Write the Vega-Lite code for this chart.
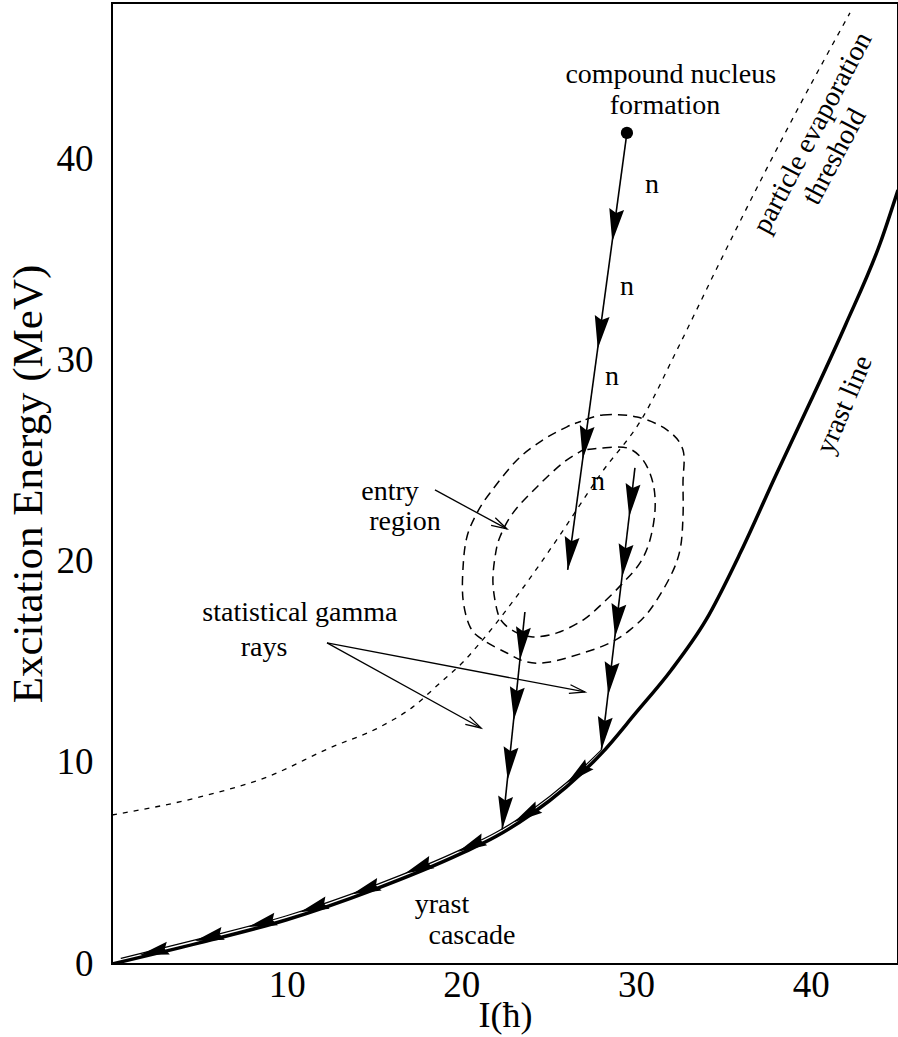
{
  "$schema": "https://vega.github.io/schema/vega-lite/v6.json",
  "width": 786,
  "height": 961,
  "autosize": {"type": "none"},
  "padding": {"left": 112, "top": 3, "right": 0, "bottom": 73},
  "background": "white",
  "config": {
    "view": {"stroke": "black", "strokeWidth": 2},
    "font": "Liberation Serif",
    "text": {"font": "Liberation Serif", "fontSize": 28, "color": "black"}
  },
  "datasets": {
    "yrast": [
      {"x": 0, "y": 0}, {"x": 5, "y": 1.05}, {"x": 10, "y": 2.2}, {"x": 15, "y": 3.7},
      {"x": 20, "y": 5.5}, {"x": 22, "y": 6.35}, {"x": 24, "y": 7.45}, {"x": 26, "y": 8.8},
      {"x": 28, "y": 10.45}, {"x": 30, "y": 12.5}, {"x": 32, "y": 14.6}, {"x": 34, "y": 17.1},
      {"x": 36, "y": 20.5}, {"x": 38, "y": 24.3}, {"x": 40, "y": 28.0}, {"x": 42, "y": 31.8},
      {"x": 44, "y": 35.9}, {"x": 45, "y": 38.5}
    ],
    "cascade": [
      {"x": 0.5, "y": 0.28}, {"x": 5, "y": 1.25}, {"x": 10, "y": 2.4}, {"x": 15, "y": 3.9},
      {"x": 20, "y": 5.7}, {"x": 22, "y": 6.55}, {"x": 24, "y": 7.65}, {"x": 26, "y": 9.0},
      {"x": 28.02, "y": 10.65}
    ],
    "threshold": [
      {"x": 0, "y": 7.41}, {"x": 5.04, "y": 8.31}, {"x": 8.87, "y": 9.3}, {"x": 12.48, "y": 10.75},
      {"x": 15.34, "y": 11.79}, {"x": 17.23, "y": 12.79}, {"x": 18.78, "y": 13.98}, {"x": 20.1, "y": 15.02},
      {"x": 21.07, "y": 15.97}, {"x": 23.36, "y": 18.51}, {"x": 25.65, "y": 21.34}, {"x": 27.94, "y": 24.33},
      {"x": 30.4, "y": 27.21}, {"x": 32.35, "y": 30.55}, {"x": 34.81, "y": 34.93}, {"x": 37.1, "y": 38.91},
      {"x": 39.39, "y": 42.74}, {"x": 42.25, "y": 47.31}
    ],
    "transitions": [
      {"id": "neutron", "x": 29.48, "y": 41.34}, {"id": "neutron", "x": 26.09, "y": 19.6},
      {"id": "gammaLeft", "x": 23.64, "y": 17.51}, {"id": "gammaLeft", "x": 22.34, "y": 6.7},
      {"id": "gammaRight", "x": 29.94, "y": 24.68}, {"id": "gammaRight", "x": 28.02, "y": 10.65}
    ],
    "pointers": [
      {"id": "entry", "x": 18.49, "y": 23.58}, {"id": "entry", "x": 22.61, "y": 21.64},
      {"id": "g1", "x": 12.31, "y": 15.97}, {"id": "g1", "x": 21.13, "y": 11.74},
      {"id": "g2", "x": 12.31, "y": 15.97}, {"id": "g2", "x": 27.08, "y": 13.53}
    ],
    "contours": [
      {"c": "outer", "i": 0, "x": 26.79, "y": 26.97}, {"c": "outer", "i": 1, "x": 28.11, "y": 27.31},
      {"c": "outer", "i": 2, "x": 30.06, "y": 27.21}, {"c": "outer", "i": 3, "x": 31.77, "y": 26.57},
      {"c": "outer", "i": 4, "x": 32.69, "y": 25.57}, {"c": "outer", "i": 5, "x": 32.69, "y": 23.93},
      {"c": "outer", "i": 6, "x": 32.69, "y": 22.24}, {"c": "outer", "i": 7, "x": 32.52, "y": 20.6},
      {"c": "outer", "i": 8, "x": 31.95, "y": 19.25}, {"c": "outer", "i": 9, "x": 30.8, "y": 17.61},
      {"c": "outer", "i": 10, "x": 29.66, "y": 16.62}, {"c": "outer", "i": 11, "x": 28.51, "y": 15.97},
      {"c": "outer", "i": 12, "x": 26.97, "y": 15.47}, {"c": "outer", "i": 13, "x": 25.08, "y": 15.02},
      {"c": "outer", "i": 14, "x": 23.76, "y": 15.02}, {"c": "outer", "i": 15, "x": 22.61, "y": 15.47},
      {"c": "outer", "i": 16, "x": 21.24, "y": 16.12}, {"c": "outer", "i": 17, "x": 20.5, "y": 16.77},
      {"c": "outer", "i": 18, "x": 20.1, "y": 18.11}, {"c": "outer", "i": 19, "x": 20.1, "y": 19.75},
      {"c": "outer", "i": 20, "x": 20.32, "y": 21.24}, {"c": "outer", "i": 21, "x": 20.9, "y": 22.44},
      {"c": "outer", "i": 22, "x": 21.64, "y": 23.43}, {"c": "outer", "i": 23, "x": 23.19, "y": 25.07},
      {"c": "outer", "i": 24, "x": 24.68, "y": 26.07}, {"c": "outer", "i": 25, "x": 26.05, "y": 26.72},
      {"c": "outer", "i": 26, "x": 26.79, "y": 26.97},
      {"c": "inner", "i": 0, "x": 26.97, "y": 25.57}, {"c": "inner", "i": 1, "x": 28.11, "y": 25.67},
      {"c": "inner", "i": 2, "x": 29.48, "y": 25.67}, {"c": "inner", "i": 3, "x": 30.4, "y": 25.07},
      {"c": "inner", "i": 4, "x": 30.97, "y": 23.93}, {"c": "inner", "i": 5, "x": 31.09, "y": 22.59},
      {"c": "inner", "i": 6, "x": 30.8, "y": 21.09}, {"c": "inner", "i": 7, "x": 30.23, "y": 19.95},
      {"c": "inner", "i": 8, "x": 29.26, "y": 18.96}, {"c": "inner", "i": 9, "x": 28.11, "y": 17.96},
      {"c": "inner", "i": 10, "x": 26.97, "y": 17.11}, {"c": "inner", "i": 11, "x": 25.48, "y": 16.47},
      {"c": "inner", "i": 12, "x": 24.1, "y": 16.27}, {"c": "inner", "i": 13, "x": 23.19, "y": 16.47},
      {"c": "inner", "i": 14, "x": 22.39, "y": 16.97}, {"c": "inner", "i": 15, "x": 22.04, "y": 17.61},
      {"c": "inner", "i": 16, "x": 21.81, "y": 18.96}, {"c": "inner", "i": 17, "x": 21.93, "y": 20.25},
      {"c": "inner", "i": 18, "x": 22.21, "y": 21.24}, {"c": "inner", "i": 19, "x": 22.96, "y": 22.44},
      {"c": "inner", "i": 20, "x": 24.33, "y": 23.73}, {"c": "inner", "i": 21, "x": 25.82, "y": 24.93},
      {"c": "inner", "i": 22, "x": 26.97, "y": 25.57}
    ],
    "heads": [
      {"x": 28.64, "y": 35.92, "dir": 7.7}, {"x": 27.81, "y": 30.6, "dir": 7.7},
      {"x": 26.95, "y": 25.12, "dir": 7.7}, {"x": 26.09, "y": 19.6, "dir": 7.7},
      {"x": 23.36, "y": 15.12, "dir": 5.9}, {"x": 23.01, "y": 12.14, "dir": 5.9},
      {"x": 22.65, "y": 9.15, "dir": 5.9}, {"x": 22.34, "y": 6.7, "dir": 5.9},
      {"x": 29.61, "y": 22.24, "dir": 6.7}, {"x": 29.21, "y": 19.25, "dir": 6.7},
      {"x": 28.8, "y": 16.27, "dir": 6.7}, {"x": 28.41, "y": 13.38, "dir": 6.7},
      {"x": 28.02, "y": 10.65, "dir": 6.7}
    ],
    "cascadeHeads": [
      {"x": 26.05, "y": 9.0, "dir": 50}, {"x": 23.01, "y": 7.05, "dir": 59},
      {"x": 19.81, "y": 5.58, "dir": 64.6}, {"x": 16.77, "y": 4.5, "dir": 67},
      {"x": 13.74, "y": 3.47, "dir": 70}, {"x": 10.76, "y": 2.58, "dir": 71},
      {"x": 7.79, "y": 1.84, "dir": 74}, {"x": 4.75, "y": 1.15, "dir": 75},
      {"x": 1.6, "y": 0.45, "dir": 76.6}
    ],
    "openHeads": [
      {"x": 22.61, "y": 21.64, "dir": -61.6},
      {"x": 21.13, "y": 11.74, "dir": -61.1},
      {"x": 27.08, "y": 13.53, "dir": -79.2}
    ],
    "dot": [{"x": 29.48, "y": 41.34}],
    "labels": [
      {"text": "compound nucleus", "x": 31.99, "y": 44.23},
      {"text": "formation", "x": 31.66, "y": 42.69},
      {"text": "n", "x": 30.92, "y": 38.76},
      {"text": "n", "x": 29.48, "y": 33.68},
      {"text": "n", "x": 28.63, "y": 29.2},
      {"text": "n", "x": 27.82, "y": 23.98},
      {"text": "entry", "x": 15.92, "y": 23.48},
      {"text": "region", "x": 16.77, "y": 21.99},
      {"text": "statistical gamma", "x": 10.76, "y": 17.46},
      {"text": "rays", "x": 8.7, "y": 15.72},
      {"text": "yrast", "x": 18.89, "y": 2.94},
      {"text": "cascade", "x": 20.61, "y": 1.39}
    ],
    "thresholdLabel": [
      {"text": "particle evaporation", "x": 40.13, "y": 41.34},
      {"text": "threshold", "x": 41.39, "y": 40.15}
    ],
    "yrastLabel": [{"text": "yrast line", "x": 41.96, "y": 27.81}]
  },
  "layer": [
    {
      "data": {"name": "threshold"},
      "mark": {"type": "line", "color": "black", "strokeWidth": 1.3, "strokeDash": [5, 6], "interpolate": "monotone", "clip": true},
      "encoding": {
        "x": {"field": "x", "type": "quantitative", "scale": {"domain": [0, 45], "nice": false, "zero": false},
          "axis": {"title": "I(ħ)", "values": [10, 20, 30, 40], "ticks": false, "domain": false, "grid": false,
            "labelFontSize": 37, "labelFont": "Liberation Serif", "labelColor": "black", "labelPadding": 3,
            "labelFlush": false, "labelOverlap": false,
            "titleFont": "Liberation Serif", "titleFontSize": 36, "titleFontWeight": "normal", "titleColor": "black",
            "titleY": 51, "titleBaseline": "middle"}},
        "y": {"field": "y", "type": "quantitative", "scale": {"domain": [0, 47.8], "nice": false, "zero": false},
          "axis": {"title": "Excitation Energy (MeV)", "values": [0, 10, 20, 30, 40], "ticks": false, "domain": false, "grid": false,
            "labelFontSize": 37, "labelFont": "Liberation Serif", "labelColor": "black", "labelPadding": 19,
            "labelFlush": false, "labelOverlap": false,
            "titleFont": "Liberation Serif", "titleFontSize": 43, "titleFontWeight": "normal", "titleColor": "black",
            "titleX": -84, "titleBaseline": "middle"}}
      }
    },
    {
      "data": {"name": "contours"},
      "mark": {"type": "line", "color": "black", "strokeWidth": 1.5, "strokeDash": [9, 6], "interpolate": "cardinal-closed"},
      "encoding": {
        "x": {"field": "x", "type": "quantitative"},
        "y": {"field": "y", "type": "quantitative"},
        "detail": {"field": "c"},
        "order": {"field": "i", "type": "quantitative"}
      }
    },
    {
      "data": {"name": "yrast"},
      "mark": {"type": "line", "color": "black", "strokeWidth": 3.5, "interpolate": "monotone", "clip": true},
      "encoding": {
        "x": {"field": "x", "type": "quantitative"},
        "y": {"field": "y", "type": "quantitative"}
      }
    },
    {
      "data": {"name": "cascade"},
      "mark": {"type": "line", "color": "black", "strokeWidth": 1.2, "interpolate": "monotone"},
      "encoding": {
        "x": {"field": "x", "type": "quantitative"},
        "y": {"field": "y", "type": "quantitative"}
      }
    },
    {
      "data": {"name": "transitions"},
      "mark": {"type": "line", "color": "black", "strokeWidth": 1.6},
      "encoding": {
        "x": {"field": "x", "type": "quantitative"},
        "y": {"field": "y", "type": "quantitative"},
        "detail": {"field": "id"}
      }
    },
    {
      "data": {"name": "pointers"},
      "mark": {"type": "line", "color": "black", "strokeWidth": 1.3},
      "encoding": {
        "x": {"field": "x", "type": "quantitative"},
        "y": {"field": "y", "type": "quantitative"},
        "detail": {"field": "id"}
      }
    },
    {
      "data": {"name": "heads"},
      "mark": {"type": "point", "shape": "M0,0L-0.45,-2L0,-1.75L0.45,-2Z", "filled": true, "color": "black", "opacity": 1, "size": 1100},
      "encoding": {
        "x": {"field": "x", "type": "quantitative"},
        "y": {"field": "y", "type": "quantitative"},
        "angle": {"field": "dir", "type": "quantitative", "scale": null}
      }
    },
    {
      "data": {"name": "cascadeHeads"},
      "mark": {"type": "point", "shape": "M0,0L-0.45,-2L0,-1.75L0.45,-2Z", "filled": true, "color": "black", "opacity": 1, "size": 850},
      "encoding": {
        "x": {"field": "x", "type": "quantitative"},
        "y": {"field": "y", "type": "quantitative"},
        "angle": {"field": "dir", "type": "quantitative", "scale": null}
      }
    },
    {
      "data": {"name": "openHeads"},
      "mark": {"type": "point", "shape": "M-0.45,-1.6L0,0L0.45,-1.6", "filled": false, "color": "black", "strokeWidth": 1.3, "opacity": 1, "size": 380},
      "encoding": {
        "x": {"field": "x", "type": "quantitative"},
        "y": {"field": "y", "type": "quantitative"},
        "angle": {"field": "dir", "type": "quantitative", "scale": null}
      }
    },
    {
      "data": {"name": "dot"},
      "mark": {"type": "point", "shape": "circle", "filled": true, "color": "black", "opacity": 1, "size": 150},
      "encoding": {
        "x": {"field": "x", "type": "quantitative"},
        "y": {"field": "y", "type": "quantitative"}
      }
    },
    {
      "data": {"name": "labels"},
      "mark": {"type": "text", "align": "center", "baseline": "middle", "fontSize": 28},
      "encoding": {
        "x": {"field": "x", "type": "quantitative"},
        "y": {"field": "y", "type": "quantitative"},
        "text": {"field": "text"}
      }
    },
    {
      "data": {"name": "thresholdLabel"},
      "mark": {"type": "text", "align": "center", "baseline": "middle", "fontSize": 28, "angle": -62},
      "encoding": {
        "x": {"field": "x", "type": "quantitative"},
        "y": {"field": "y", "type": "quantitative"},
        "text": {"field": "text"}
      }
    },
    {
      "data": {"name": "yrastLabel"},
      "mark": {"type": "text", "align": "center", "baseline": "middle", "fontSize": 28, "angle": -67},
      "encoding": {
        "x": {"field": "x", "type": "quantitative"},
        "y": {"field": "y", "type": "quantitative"},
        "text": {"field": "text"}
      }
    }
  ]
}
